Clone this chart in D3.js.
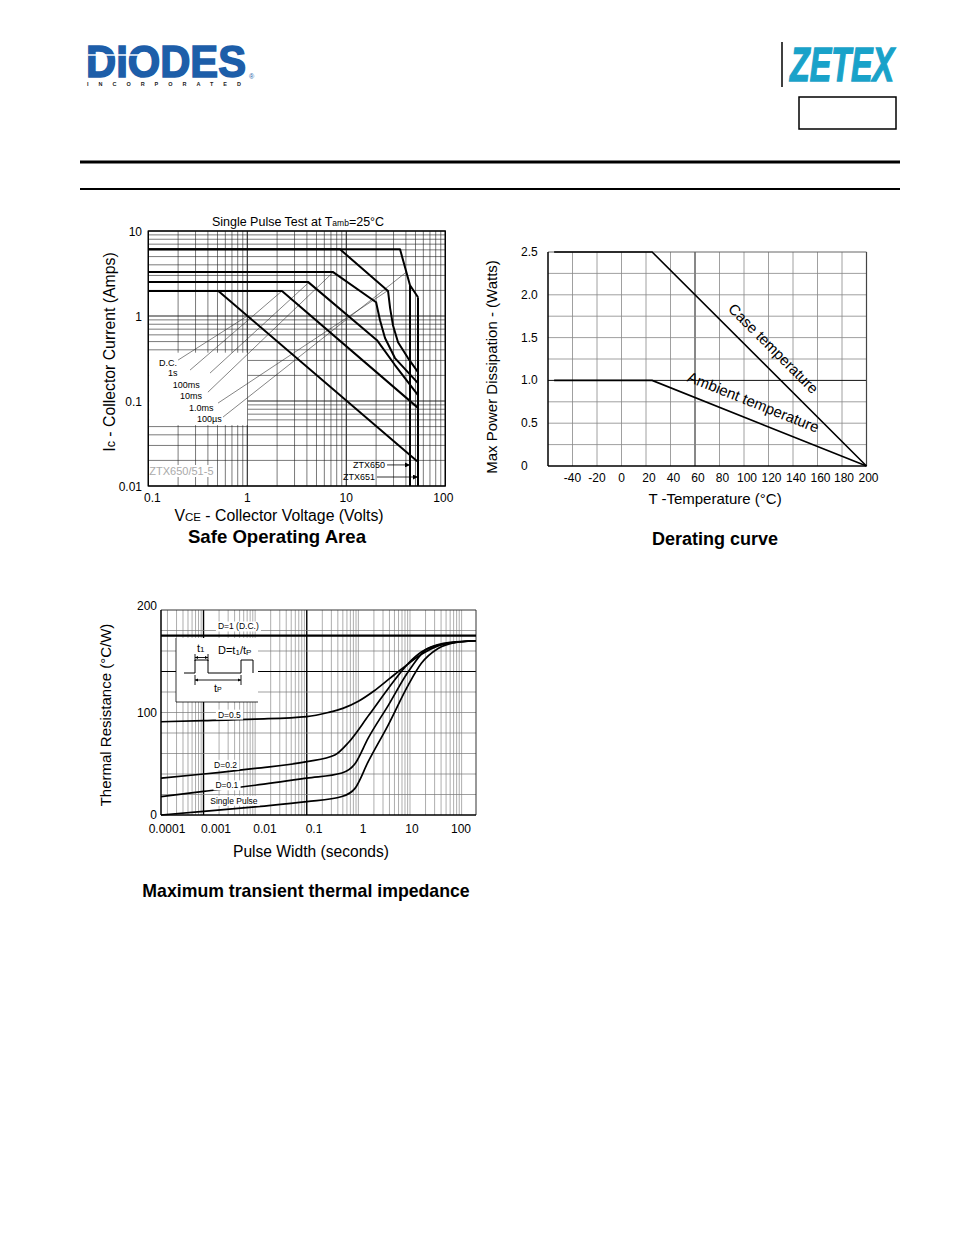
<!DOCTYPE html>
<html><head><meta charset="utf-8">
<script src="https://cdn.jsdelivr.net/npm/d3@7"></script>
<style>
body{margin:0;background:#fff}
svg{display:block}
text{font-family:"Liberation Sans",Arial,sans-serif;fill:#000}
</style>
</head><body>
<svg id="c" width="954" height="1235"></svg>
<script>
// ================= DATA =================
// Safe Operating Area (VCE volts, IC amps)
const soaXTicks = [0.1, 1, 10, 100];
const soaYTicks = [10, 1, 0.1, 0.01];
const soaDC    = [[0.1,1.97],[0.51,1.97],[52,0.0195]];
const soa1s    = [[0.1,1.97],[2.24,1.97],[53,0.083]];
const soa100ms = [[0.1,2.52],[4.1,2.52],[20.4,0.52],[31,0.265],[53,0.117]];
const soa10ms  = [[0.1,3.3],[7.3,3.3],[20,1.45],[21.9,0.89],[24.6,0.55],[31,0.32],[53,0.162]];
const soa1ms   = [[0.1,6.09],[8.64,6.09],[26.4,1.97],[27.7,1.24],[29.6,0.78],[33.3,0.49],[42,0.32],[53,0.219]];
const soa100us = [[0.1,6.09],[34.9,6.09],[44,2.3],[53,1.66]];
const soaLimit650 = [[44,2.3],[44,0.01]];
const soaLimit651 = [[53,1.66],[53,0.01]];
const soaLabelNames = ["D.C.","1s","100ms","10ms","1.0ms","100\u00b5s"];
const soaLabelAt    = [[0.128,0.257],[0.158,0.196],[0.177,0.142],[0.209,0.105],[0.258,0.076],[0.31,0.0565]];
const soaLeaderFrom = [[0.2,0.303],[0.264,0.231],[0.42,0.213],[0.40,0.127],[0.506,0.0945],[0.569,0.0648]];
const soaLeaderTo   = [[1.0,1.0],[2.24,1.97],[4.1,2.43],[7.34,3.26],[26.4,2.0],[40.1,3.26]];
const soaArrow650 = [[25.8,0.0177],[44,0.0177]];
const soaArrow651 = [[20.4,0.01276],[53,0.01276]];

// Derating curve (deg C, watts)
const derXTicks = [-40,-20,0,20,40,60,80,100,120,140,160,180,200];
const derYTicks = [2.5,2.0,1.5,1.0,0.5,0];
const derYLabels = ["2.5","2.0","1.5","1.0","0.5","0"];
const caseTemp    = [[-55,2.5],[25,2.5],[200,0]];
const ambientTemp = [[-55,1.0],[25,1.0],[200,0]];

// Transient thermal impedance (seconds, deg C/W)
const thXLabels = ["0.0001","0.001","0.01","0.1","1","10","100"];
const thYTicks = [200,100,0];
const thDC     = [[1.5e-4,175],[190,175]];
const thD05    = [[1.5e-4,91],[1e-3,92],[0.01,93.5],[0.1,96],[0.26,100],[0.5,104],[1,111],[2,121],[4,133],[8,145],[17,157],[35,165],[72,168.5],[190,170]];
const thD02    = [[1.5e-4,36],[1e-3,40],[0.01,45.5],[0.1,52],[0.35,58.5],[0.65,71],[1.6,97.5],[3.8,123.5],[9.3,148],[16.6,159],[41,166.5],[190,170]];
const thD01    = [[1.5e-4,18],[1e-3,23],[0.01,29],[0.1,36],[0.48,41],[0.86,50],[1.55,75],[3.8,107],[9.3,140],[22,162.5],[60,168.5],[190,170]];
const thSingle = [[1.5e-4,0],[1e-3,3.5],[0.01,8],[0.1,13],[0.48,18],[0.86,26],[1.55,52],[3.8,88],[9.3,127],[16.6,148],[35,162.5],[80,168.5],[190,170]];
const thLabelNames = ["D=1 (D.C.)","D=0.5","D=0.2","D=0.1","Single Pulse"];
const thLabelAt    = [[0.0019,181],[0.0019,95],[0.0016,46],[0.0017,26],[0.00135,11]];

// ================= DRAW =================
const svg = d3.select("#c");
svg.append("rect").attr("width",954).attr("height",1235).attr("fill","#fff");

// ---- header ----
const hdr = svg.append("g");
hdr.append("text").attr("x",86).attr("y",77).attr("font-size",45).attr("font-weight","900")
  .attr("textLength",160).attr("lengthAdjust","spacingAndGlyphs").style("fill","#1d5ea9")
  .attr("stroke","#1d5ea9").attr("stroke-width",1.6).text("DIODES");
hdr.append("line").attr("x1",88).attr("x2",150).attr("y1",55).attr("y2",55).attr("stroke","#fff").attr("stroke-width",1.5);
hdr.append("text").attr("x",87).attr("y",86).attr("font-size",5.5).attr("font-weight","bold")
  .attr("textLength",154).attr("lengthAdjust","spacing").style("fill","#222").text("INCORPORATED");
hdr.append("text").attr("x",249).attr("y",79).attr("font-size",7).style("fill","#1d5ea9").text("\u00ae");
hdr.append("line").attr("x1",782).attr("x2",782).attr("y1",42).attr("y2",87).attr("stroke","#000").attr("stroke-width",1.5);
hdr.append("text").attr("x",790).attr("y",81).attr("font-size",49).attr("font-weight","bold").attr("font-style","italic")
  .attr("textLength",104).attr("lengthAdjust","spacingAndGlyphs").style("fill","#19a2c9")
  .attr("stroke","#19a2c9").attr("stroke-width",1.4).text("ZETEX");
hdr.append("rect").attr("x",799).attr("y",97).attr("width",97).attr("height",32).attr("fill","none").attr("stroke","#000").attr("stroke-width",1.5);
hdr.append("line").attr("x1",80).attr("x2",900).attr("y1",162).attr("y2",162).attr("stroke","#000").attr("stroke-width",3);
hdr.append("line").attr("x1",80).attr("x2",900).attr("y1",189).attr("y2",189).attr("stroke","#000").attr("stroke-width",2);

function logTicks(lo, hi){
  const out=[];
  for(let e=Math.floor(Math.log10(lo)); e<=Math.ceil(Math.log10(hi)); e++)
    for(let k=1;k<10;k++){const v=+(k*Math.pow(10,e)).toPrecision(6); if(v>=lo*0.999 && v<=hi*1.001) out.push(v);}
  return out;
}
const isDecade = v => Math.abs(Math.log10(v)-Math.round(Math.log10(v)))<1e-9;

// ---- SOA ----
(function(){
  const L=148.3,R=445.3,T=231,B=486;
  const sx=d3.scaleLog().domain([0.1,100]).range([L,R]);
  const sy=d3.scaleLog().domain([0.01,10]).range([B,T]);
  const g=svg.append("g");
  logTicks(0.1,100).forEach(v=>g.append("line").attr("x1",sx(v)).attr("x2",sx(v)).attr("y1",T).attr("y2",B)
     .attr("stroke","#222").attr("stroke-width",isDecade(v)?1.1:0.6));
  logTicks(0.01,10).forEach(v=>g.append("line").attr("x1",L).attr("x2",R).attr("y1",sy(v)).attr("y2",sy(v))
     .attr("stroke","#222").attr("stroke-width",isDecade(v)?1.1:0.6));
  g.append("rect").attr("x",L+0.8).attr("y",sy(0.37)).attr("width",sx(1.0)-L-0.8).attr("height",sy(0.052)-sy(0.37)).attr("fill","#fff");
  const line=d3.line().x(d=>sx(d[0])).y(d=>sy(d[1]));
  soaLeaderFrom.forEach((f,i)=>g.append("path").attr("d",line([f,soaLeaderTo[i]])).attr("stroke","#333").attr("stroke-width",0.6).attr("fill","none"));
  [soaDC,soa1s,soa100ms,soa10ms,soa1ms,soa100us,soaLimit650,soaLimit651].forEach(s=>
    g.append("path").attr("d",line(s)).attr("fill","none").attr("stroke","#000").attr("stroke-width",2).attr("stroke-linejoin","round"));
  soaLabelNames.forEach((t,i)=>g.append("text").attr("x",sx(soaLabelAt[i][0])).attr("y",sy(soaLabelAt[i][1])).attr("font-size",9).text(t));
  const gl=g.append("text").attr("x",L+1).attr("y",475).attr("font-size",11).style("fill","#aaa").text("ZTX650/51-5");
  const gb=gl.node().getBBox();
  g.insert("rect",()=>gl.node()).attr("x",L+0.8).attr("y",gb.y).attr("width",gb.width+2).attr("height",gb.height).attr("fill","#fff");
  g.append("rect").attr("x",L).attr("y",T).attr("width",R-L).attr("height",B-T).attr("fill","none").attr("stroke","#000").attr("stroke-width",1.3);
  const defs=svg.append("defs");
  defs.append("marker").attr("id","ah").attr("viewBox","0 0 10 10").attr("refX",10).attr("refY",5)
    .attr("markerWidth",7).attr("markerHeight",5).attr("orient","auto").attr("markerUnits","userSpaceOnUse")
    .append("path").attr("d","M0,0L10,5L0,10z").attr("fill","#000");
  [soaArrow650,soaArrow651].forEach(a=>g.append("path").attr("d",line(a)).attr("stroke","#000").attr("stroke-width",0.8).attr("marker-end","url(#ah)"));
  g.append("text").attr("x",sx(soaArrow650[0][0])-2).attr("y",sy(soaArrow650[0][1])+3).attr("text-anchor","end").attr("font-size",9).text("ZTX650");
  g.append("text").attr("x",sx(soaArrow651[0][0])-2).attr("y",sy(soaArrow651[0][1])+3).attr("text-anchor","end").attr("font-size",9).text("ZTX651");
  soaXTicks.forEach(v=>g.append("text").attr("x",Math.min(Math.max(sx(v),L+4),R-2)).attr("y",502).attr("text-anchor","middle").attr("font-size",12).text(v));
  soaYTicks.forEach(v=>g.append("text").attr("x",142).attr("y",Math.min(sy(v)+5,491)).attr("text-anchor","end").attr("font-size",12).text(v));
  const tt=g.append("text").attr("x",298).attr("y",226).attr("text-anchor","middle").attr("font-size",12.5);
  tt.append("tspan").text("Single Pulse Test at T");
  tt.append("tspan").attr("font-size",8.5).text("amb");
  tt.append("tspan").text("=25\u00b0C");
  const xt=g.append("text").attr("x",279).attr("y",521).attr("text-anchor","middle").attr("font-size",15.8);
  xt.append("tspan").text("V"); xt.append("tspan").attr("font-size",11.5).text("CE"); xt.append("tspan").text(" - Collector Voltage (Volts)");
  const yt=g.append("text").attr("transform","translate(115,352) rotate(-90)").attr("text-anchor","middle").attr("font-size",15.8);
  yt.append("tspan").text("I"); yt.append("tspan").attr("font-size",12.5).text("c"); yt.append("tspan").text(" - Collector Current (Amps)");
  g.append("text").attr("x",277).attr("y",543).attr("text-anchor","middle").attr("font-size",18.6).attr("font-weight","bold").text("Safe Operating Area");
})();

// ---- Derating ----
(function(){
  const L=548,R=866.5,T=252,B=466;
  const x=d3.scaleLinear().domain([-60,200]).range([L,R]);
  const y=d3.scaleLinear().domain([0,2.5]).range([B,T]);
  const g=svg.append("g");
  d3.range(-40,200,20).forEach(v=>g.append("line").attr("x1",x(v)).attr("x2",x(v)).attr("y1",T).attr("y2",B)
     .attr("stroke",v===60?"#111":"#888").attr("stroke-width",v===60?1:0.8));
  d3.range(0.25,2.5,0.25).forEach(v=>g.append("line").attr("x1",L).attr("x2",R).attr("y1",y(v)).attr("y2",y(v))
     .attr("stroke",Math.abs(v-1)<1e-6?"#111":"#888").attr("stroke-width",Math.abs(v-1)<1e-6?1:0.8));
  g.append("line").attr("x1",L).attr("x2",R).attr("y1",T).attr("y2",T).attr("stroke","#666").attr("stroke-width",1);
  g.append("line").attr("x1",R).attr("x2",R).attr("y1",T).attr("y2",B).attr("stroke","#444").attr("stroke-width",1.2);
  g.append("line").attr("x1",L).attr("x2",L).attr("y1",T).attr("y2",B).attr("stroke","#000").attr("stroke-width",1.5);
  g.append("line").attr("x1",L).attr("x2",R).attr("y1",B).attr("y2",B).attr("stroke","#000").attr("stroke-width",1.5);
  const line=d3.line().x(d=>x(d[0])).y(d=>y(d[1]));
  [caseTemp,ambientTemp].forEach(s=>g.append("path").attr("d",line(s)).attr("fill","none").attr("stroke","#000").attr("stroke-width",1.6));
  function ang(s){const a=s[s.length-2],b=s[s.length-1];return Math.atan2(y(b[1])-y(a[1]),x(b[0])-x(a[0]))*180/Math.PI;}
  g.append("text").attr("transform",`translate(${x(121)},${y(1.33)}) rotate(${ang(caseTemp)})`).attr("text-anchor","middle").attr("font-size",15).text("Case temperature");
  g.append("text").attr("transform",`translate(${x(106)},${y(0.69)}) rotate(${ang(ambientTemp)})`).attr("text-anchor","middle").attr("font-size",15).text("Ambient temperature");
  derXTicks.forEach(v=>g.append("text").attr("x",x(v)+(v>0&&v<180?3:(v>=180?2:0))).attr("y",482).attr("text-anchor","middle").attr("font-size",12).text(v));
  derYTicks.forEach((v,i)=>g.append("text").attr("x",521).attr("y",y(v)+4).attr("font-size",12).text(derYLabels[i]));
  g.append("text").attr("x",715).attr("y",504).attr("text-anchor","middle").attr("font-size",15).text("T -Temperature (\u00b0C)");
  g.append("text").attr("transform","translate(497,367) rotate(-90)").attr("text-anchor","middle").attr("font-size",15).text("Max Power Dissipation - (Watts)");
  g.append("text").attr("x",715).attr("y",545).attr("text-anchor","middle").attr("font-size",18).attr("font-weight","bold").text("Derating curve");
})();

// ---- Thermal ----
(function(){
  const L=161,R=476,T=610,B=815;
  const x=d3.scaleLog().domain([1.5e-4,190]).range([L,R]);
  const y=d3.scaleLinear().domain([0,200]).range([B,T]);
  const g=svg.append("g");
  logTicks(1.5e-4,190).forEach(v=>{
    const maj = Math.abs(v-1e-3)<1e-12 || Math.abs(v-0.1)<1e-9;
    g.append("line").attr("x1",x(v)).attr("x2",x(v)).attr("y1",T).attr("y2",B)
     .attr("stroke",maj?"#000":"#777").attr("stroke-width",maj?1.4:0.6);});
  d3.range(20,200,20).forEach(v=>g.append("line").attr("x1",L).attr("x2",R).attr("y1",y(v)).attr("y2",y(v))
     .attr("stroke",v===140?"#000":"#777").attr("stroke-width",v===140?1:0.7));
  g.append("line").attr("x1",L).attr("x2",R).attr("y1",T).attr("y2",T).attr("stroke","#333").attr("stroke-width",1);
  g.append("line").attr("x1",R).attr("x2",R).attr("y1",T).attr("y2",B).attr("stroke","#333").attr("stroke-width",1);
  const ib=g.append("g");
  ib.append("rect").attr("x",176).attr("y",638).attr("width",82).attr("height",64).attr("fill","#fff");
  ib.append("path").attr("d","M176,638V702H258").attr("fill","none").attr("stroke","#000").attr("stroke-width",0.8);
  ib.append("path").attr("d","M184,673H195V660H208V673H241V660H253V673").attr("fill","none").attr("stroke","#000").attr("stroke-width",1);
  ib.append("path").attr("d","M195,654V661M208,654V661M195,657.5H208M195,675V685M241,675V685M195,680H241").attr("fill","none").attr("stroke","#000").attr("stroke-width",0.9);
  ib.append("path").attr("d","M195,657.5l3,-1.5v3zM208,657.5l-3,-1.5v3zM195,680l3,-1.5v3zM241,680l-3,-1.5v3z").attr("fill","#000");
  const t1=ib.append("text").attr("x",197).attr("y",652).attr("font-size",11); t1.append("tspan").text("t"); t1.append("tspan").attr("font-size",8).text("1");
  const dt=ib.append("text").attr("x",218).attr("y",654).attr("font-size",11);
  dt.append("tspan").text("D=t"); dt.append("tspan").attr("font-size",8).attr("dy",1).text("1"); dt.append("tspan").attr("dy",-1).text("/t"); dt.append("tspan").attr("font-size",8).attr("dy",1).text("P");
  const tp=ib.append("text").attr("x",214).attr("y",692).attr("font-size",11); tp.append("tspan").text("t"); tp.append("tspan").attr("font-size",7).text("P");
  const line=d3.line().x(d=>x(d[0])).y(d=>y(d[1])).curve(d3.curveMonotoneX);
  g.append("path").attr("d",line(thDC)).attr("stroke","#000").attr("stroke-width",2.2).attr("fill","none");
  [thD05,thD02,thD01,thSingle].forEach(s=>g.append("path").attr("d",line(s)).attr("fill","none").attr("stroke","#000").attr("stroke-width",1.7));
  thLabelNames.forEach((t,i)=>{
    const tx=g.append("text").attr("x",x(thLabelAt[i][0])).attr("y",y(thLabelAt[i][1])).attr("font-size",8.5).text(t);
    const bb=tx.node().getBBox();
    g.insert("rect",()=>tx.node()).attr("x",bb.x-2).attr("y",bb.y).attr("width",bb.width+4).attr("height",bb.height).attr("fill","#fff");
  });
  g.append("line").attr("x1",L).attr("x2",L).attr("y1",T).attr("y2",B).attr("stroke","#000").attr("stroke-width",1.5);
  g.append("line").attr("x1",L).attr("x2",R).attr("y1",B).attr("y2",B).attr("stroke","#000").attr("stroke-width",1.5);
  const px=d3.scalePoint().domain(thXLabels).range([167,461]);
  thXLabels.forEach(t=>g.append("text").attr("x",px(t)).attr("y",833).attr("text-anchor","middle").attr("font-size",12).text(t));
  thYTicks.forEach(v=>g.append("text").attr("x",157).attr("y",y(v)+(v===200?0:4)).attr("text-anchor","end").attr("font-size",12).text(v));
  g.append("text").attr("x",311).attr("y",857).attr("text-anchor","middle").attr("font-size",15.6).text("Pulse Width (seconds)");
  g.append("text").attr("transform","translate(111,715) rotate(-90)").attr("text-anchor","middle").attr("font-size",15).text("Thermal Resistance (\u00b0C/W)");
  g.append("text").attr("x",306).attr("y",897).attr("text-anchor","middle").attr("font-size",17.7).attr("font-weight","bold").text("Maximum transient thermal impedance");
})();
</script>
</body></html>
